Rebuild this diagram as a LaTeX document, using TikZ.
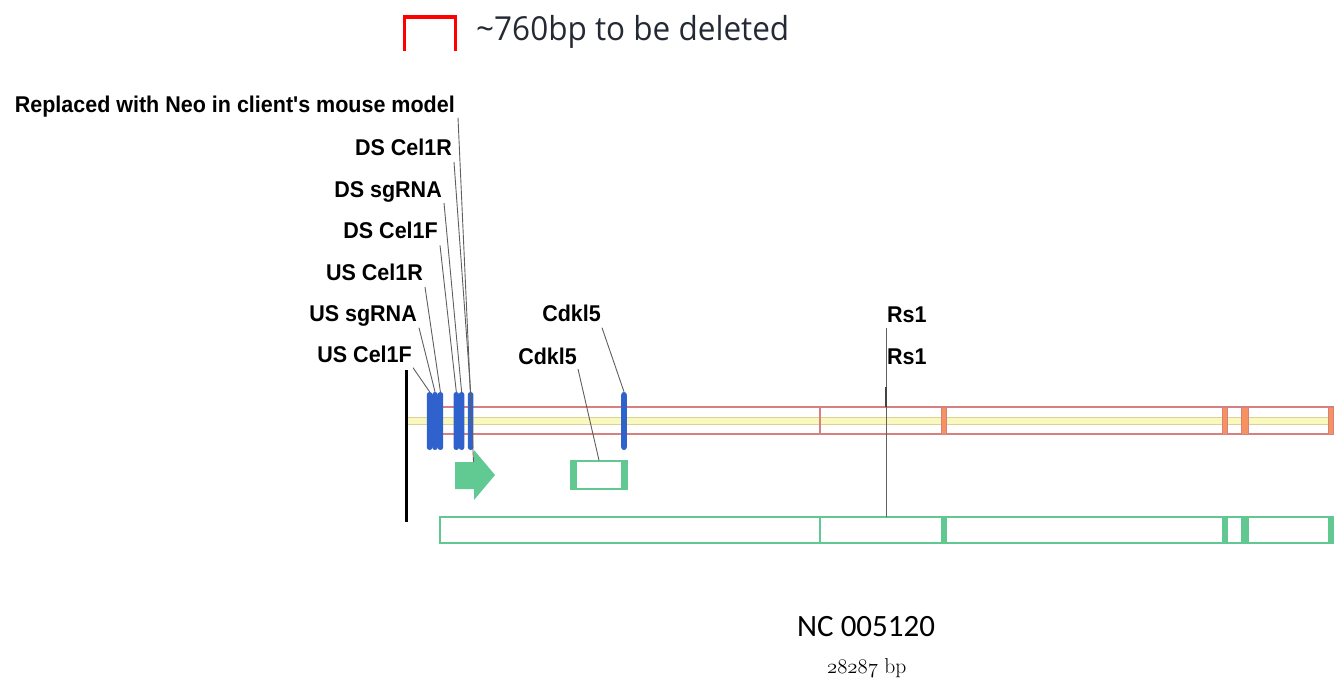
\documentclass[tikz,border=0pt]{standalone}
\usepackage{fontspec}
\newfontfamily\arialb[BoldFont=*]{Liberation Sans Bold}
\newfontfamily\osans{Open Sans}
\newfontfamily\carl{Carlito}
\usetikzlibrary{calc}
\definecolor{barblue}{RGB}{47,98,204}
\definecolor{neogreen}{RGB}{96,202,146}
\definecolor{boxgreen}{RGB}{96,200,144}
\definecolor{exonorange}{RGB}{246,146,96}
\definecolor{trackred}{RGB}{214,128,128}
\definecolor{bandyellow}{RGB}{250,248,190}
\definecolor{bandedge}{RGB}{218,210,150}
\definecolor{leadgray}{RGB}{95,95,95}
\definecolor{titlegray}{RGB}{36,42,52}
\tikzset{
  lbl/.style={font=\arialb\fontsize{21.5}{24}\selectfont, inner sep=0pt, anchor=base east, yscale=1.06},
  lblw/.style={font=\arialb\fontsize{21.5}{24}\selectfont, inner sep=0pt, anchor=base west, yscale=1.06},
  leader/.style={draw=leadgray, line width=0.9pt},
  bar/.style={fill=barblue, draw=none, rounded corners=2.7pt, minimum width=5.6pt, minimum height=58pt, inner sep=0pt},
  oexon/.style={fill=exonorange, draw=trackred, line width=0.6pt},
  gexon/.style={fill=boxgreen, draw=boxgreen, line width=0.6pt},
  gline/.style={draw=boxgreen, line width=1.6pt},
}
\begin{document}
\begin{tikzpicture}[x=1pt,y=-1pt]
\useasboundingbox (0,0) rectangle (1337,681);
% deletion bracket and title
\draw[red, line width=3.6pt] (404.5,51) -- (404.5,17) -- (455.5,17) -- (455.5,51);
\node[font=\osans\fontsize{31.5}{34}\selectfont, text=titlegray, inner sep=0pt, anchor=base west, yscale=1.05] (title) at (476,40) {\char`\~760bp to be deleted};
% yellow band and red track
\filldraw[fill=bandyellow, draw=bandedge, line width=0.8pt] (407,417) rectangle (1330,424);
\draw[trackred, line width=1.1pt] (440,407) rectangle (1333,434);
\draw[trackred, line width=2pt] (819.5,407) -- (819.5,434);
\foreach \a/\b in {941/946, 1222/1227, 1241/1248, 1328/1333}
  \filldraw[oexon] (\a,407) rectangle (\b,434);
% green gene box
\draw[gline] (440,517) rectangle (1333,543);
\draw[boxgreen, line width=2pt] (819.5,517) -- (819.5,543);
\foreach \a/\b in {941/946, 1222/1227, 1241/1248, 1328/1333}
  \filldraw[gexon] (\a,517) rectangle (\b,543);
% Cdkl5 small box
\node[draw=boxgreen, line width=1.4pt, minimum width=56pt, minimum height=28pt, inner sep=0pt] (cdkbox) at (599,475) {};
\fill[boxgreen] (571,461) rectangle (577,489);
\fill[boxgreen] (621,461) rectangle (627,489);
% Neo arrow
\fill[neogreen] (455,462) -- (474,462) -- (474,450) -- (495,475) -- (474,500) -- (474,489) -- (455,489) -- cycle;
\coordinate (neotop) at (473.5,462);
% black line
\draw[black, line width=3pt] (406,370) -- (406,522);
% blue bars
\node[bar] (b1) at (429.6,421) {};
\node[bar] (b2) at (435.0,421) {};
\node[bar] (b3) at (440.4,421) {};
\node[bar] (b4) at (456.3,421) {};
\node[bar] (b5) at (461.6,421) {};
\node[bar] (b6) at (470.6,421) {};
\node[bar] (b7) at (624.0,421) {};
% labels
\node[lbl] (rep) at (455,112.7) {Replaced with Neo in client's mouse model};
\node[lbl] (dsr) at (452,155) {DS Cel1R};
\node[lbl] (dss) at (442,197) {DS sgRNA};
\node[lbl] (dsf) at (438,238.3) {DS Cel1F};
\node[lbl] (usr) at (423,280) {US Cel1R};
\node[lbl] (uss) at (417,321.7) {US sgRNA};
\node[lbl] (usf) at (412,362.7) {US Cel1F};
\node[lbl] (cdka) at (601,321.7) {Cdkl5};
\node[lbl] (cdkb) at (577,364) {Cdkl5};
\node[lblw] (rsa) at (887,322.7) {Rs1};
\node[lblw] (rsb) at (887,364) {Rs1};
% leaders
\draw[leader] ($(rep.base east)+(3,5)$) -- (neotop);
\draw[leader] ($(dsr.base east)+(2,7)$) -- (b6.north);
\draw[leader] ($(dss.base east)+(2,6)$) -- (b5.north);
\draw[leader] ($(dsf.base east)+(2,7)$) -- (b4.north);
\draw[leader] ($(usr.base east)+(2,7)$) -- (b3.north);
\draw[leader] ($(uss.base east)+(2,6)$) -- (b2.north);
\draw[leader] ($(usf.base east)+(1,5)$) -- (b1.north);
\draw[leader] ($(cdka.base east)+(1,6)$) -- (b7.north);
\draw[leader] ($(cdkb.base east)+(1,5)$) -- (cdkbox.north);
\coordinate (rsend) at (886,517);
\draw[leader] ($(rsa.base west)+(-1,5)$) -- (rsend);
\draw[leadgray!70!black, line width=2pt] (886,387) -- (886,407);
% bottom texts
\node[font=\carl\fontsize{31}{33}\selectfont, inner sep=0pt, anchor=base west] (nc) at (797,636.7) {NC 005120};
\node[font=\fontsize{21.5}{23}\selectfont, inner sep=0pt, anchor=base west] (bp) at (827,673) {{\usefont{OML}{lmm}{m}{it}28287} bp};
\end{tikzpicture}
\end{document}
